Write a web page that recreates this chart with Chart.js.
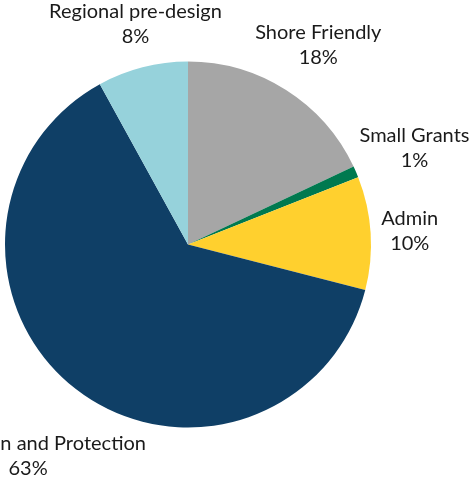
<!DOCTYPE html>
<html>
<head>
<meta charset="utf-8">
<script src="https://cdn.jsdelivr.net/npm/chart.js@4.4.1/dist/chart.umd.min.js"></script>
<style>
  html, body { margin: 0; padding: 0; background: #fff; }
  #wrap { width: 471px; height: 478px; }
</style>
</head>
<body>
<div id="wrap"><canvas id="pie" width="471" height="478"></canvas></div>
<script>
// slice data, clockwise from 12 o'clock
const categories = ['Shore Friendly', 'Small Grants', 'Admin', 'Restoration and Protection', 'Regional pre-design'];
const shares = [18, 1, 10, 63, 8];
const sliceColors = ['#A6A6A6', '#00794F', '#FFD02E', '#0F3F66', '#96D2DB'];

const FONT = '20px Lato, "Noto Sans", sans-serif';
const LINE_H = 25;

// draws "name / pct%" outside each slice, like Excel's outside-end labels
const outsideLabels = {
    id: 'outsideLabels',
    afterDatasetsDraw(chart) {
        const ctx = chart.ctx;
        const meta = chart.getDatasetMeta(0);
        ctx.save();
        ctx.font = FONT;
        ctx.fillStyle = '#1a1a1a';
        ctx.textAlign = 'center';
        ctx.textBaseline = 'middle';
        meta.data.forEach((arc, i) => {
            const lines = [categories[i], shares[i] + '%'];
            const halfW = Math.max(...lines.map(l => ctx.measureText(l).width)) / 2;
            const halfH = 22;
            const mid = (arc.startAngle + arc.endAngle) / 2;
            const c = Math.cos(mid), s = Math.sin(mid);
            const dist = arc.outerRadius + 10 + 0.85 * Math.abs(c) * halfW + 0.75 * Math.abs(s) * halfH;
            const x = arc.x + c * dist + 4;
            const y = arc.y + s * dist;
            ctx.fillText(lines[0], x, y - LINE_H / 2);
            ctx.fillText(lines[1], x, y + LINE_H / 2);
        });
        ctx.restore();
    }
};

new Chart(document.getElementById('pie'), {
    type: 'pie',
    data: {
        labels: categories,
        datasets: [{
            data: shares,
            backgroundColor: sliceColors,
            borderWidth: 0
        }]
    },
    options: {
        responsive: false,
        animation: false,
        layout: { padding: { left: 5, right: 100, top: 61, bottom: 50 } },
        plugins: {
            legend: { display: false },
            tooltip: { enabled: false }
        }
    },
    plugins: [outsideLabels]
});
</script>
</body>
</html>
